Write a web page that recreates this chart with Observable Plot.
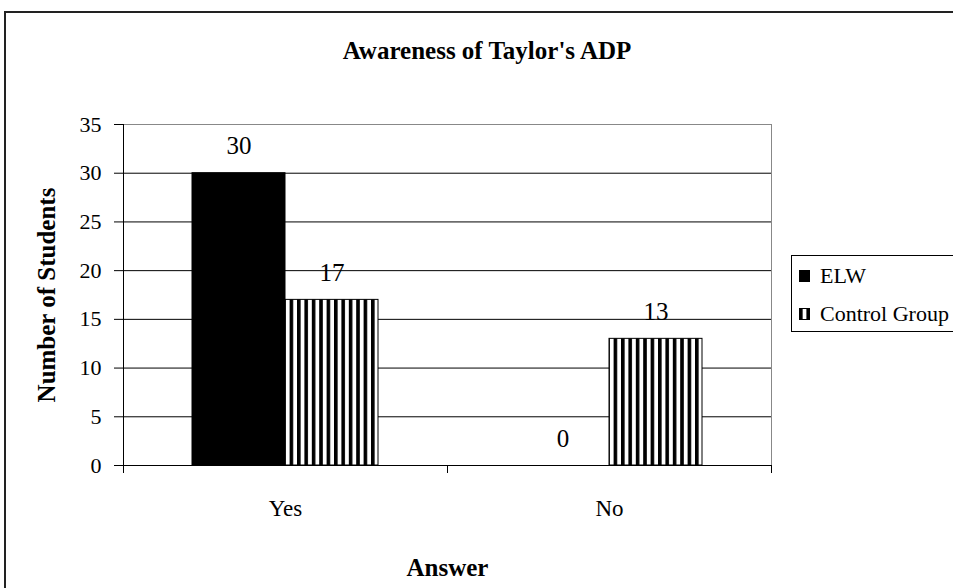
<!DOCTYPE html>
<html>
<head>
<meta charset="utf-8">
<script src="https://cdn.jsdelivr.net/npm/d3@7"></script>
<script src="https://cdn.jsdelivr.net/npm/@observablehq/plot@0.6"></script>
<style>
  body { margin: 0; background: #fff; }
  #wrap { position: relative; width: 953px; height: 588px; overflow: hidden;
          font-family: "Liberation Serif", "Times New Roman", serif; color: #000; }
  #border { position: absolute; left: 4px; top: 11px; width: 1200px; height: 900px;
            border-left: 2px solid #222; border-top: 2px solid #222; }
  #title { position: absolute; left: 0; top: 37px; width: 974px; text-align: center;
           font-family: "Liberation Serif", serif; font-weight: bold; font-size: 25px; }
  #chart { position: absolute; left: 0; top: 100px; }
  #chart text { font-family: "Liberation Serif", serif; }
  #chart g[aria-label="y-axis label"] text,
  #chart g[aria-label="fx-axis label"] text { font-weight: bold; font-size: 25px; }
  #legend { position: absolute; left: 791px; top: 255px; width: 300px; height: 75px;
            border: 1px solid #000; font-family: "Liberation Serif", serif; font-size: 22px; }
  #legend .item { position: absolute; left: 7px; display: flex; align-items: center; height: 20px; }
  #legend svg { margin-right: 10px; }
</style>
</head>
<body>
<div id="wrap">
  <div id="border"></div>
  <div id="title">Awareness of Taylor's ADP</div>
  <div id="chart"></div>
  <div id="legend"></div>
</div>
<script>
// Survey answers and the student counts per group
const answers = ["Yes", "No"];
const groups = ["ELW", "Control Group"];
const elwCounts = [30, 0];
const controlCounts = [17, 13];
const yTicks = [0, 5, 10, 15, 20, 25, 30, 35];
const groupFills = ["#000", "url(#vstripes)"];

const rows = answers.flatMap((answer, i) => [
  {answer, group: groups[0], count: elwCounts[i]},
  {answer, group: groups[1], count: controlCounts[i]}
]);

const W = 800, H = 488, mt = 24, mr = 29, mb = 123, ml = 122;
const plotH = H - mt - mb;

const chart = Plot.plot({
  width: W, height: H,
  marginTop: mt, marginRight: mr, marginBottom: mb, marginLeft: ml,
  style: {fontFamily: "Liberation Serif, serif", color: "#000", background: "transparent", overflow: "visible"},
  fx: {domain: answers, paddingInner: 0, paddingOuter: 0},
  x: {domain: groups, paddingInner: 0, paddingOuter: 0.74, axis: null},
  y: {domain: [0, 35]},
  color: {domain: groups, range: groupFills},
  marks: [
    Plot.gridY(yTicks.slice(1, -1), {stroke: "#000", strokeOpacity: 1}),
    Plot.ruleY([35], {stroke: "#888"}),
    Plot.frame({anchor: "right", facetAnchor: "right", stroke: "#888"}),
    Plot.barY(rows, {fx: "answer", x: "group", y: "count", fill: "group", stroke: "#000"}),
    Plot.text(rows, {fx: "answer", x: "group", y: "count", text: d => String(d.count), dy: -27, fontSize: 25}),
    Plot.ruleY([0], {stroke: "#000"}),
    Plot.frame({anchor: "left", facetAnchor: "left", insetBottom: -7, stroke: "#000"}),
    Plot.frame({anchor: "right", insetTop: plotH, insetBottom: -7, stroke: "#000"}),
    Plot.axisY(yTicks, {anchor: "left", tickSize: 9, tickPadding: 13, fontSize: 22,
      label: "Number of Students", labelAnchor: "center", labelArrow: "none", labelOffset: 86}),
    Plot.axisFx({anchor: "bottom", tickSize: 0, tickPadding: 34, fontSize: 23,
      label: "Answer", labelAnchor: "center", labelOffset: 110})
  ]
});

// vertical stripe fill used by the control group bars
const defs = d3.select(chart).insert("defs", ":first-child");
const pat = defs.append("pattern").attr("id", "vstripes")
  .attr("patternUnits", "userSpaceOnUse").attr("width", 7.4).attr("height", 10);
pat.append("rect").attr("width", 7.4).attr("height", 10).attr("fill", "#fff");
pat.append("rect").attr("width", 3.6).attr("height", 10).attr("fill", "#000");

document.getElementById("chart").appendChild(chart);

// legend
const legend = d3.select("#legend");
groups.forEach((g, i) => {
  const item = legend.append("div").attr("class", "item").style("top", (10 + i * 38) + "px");
  const sw = item.append("svg").attr("width", 11).attr("height", 12);
  sw.append("rect").attr("x", 0.5).attr("y", 0.5).attr("width", 10).attr("height", 11)
    .attr("fill", groupFills[i]).attr("stroke", "#000");
  item.append("span").text(g);
});
</script>
</body>
</html>
